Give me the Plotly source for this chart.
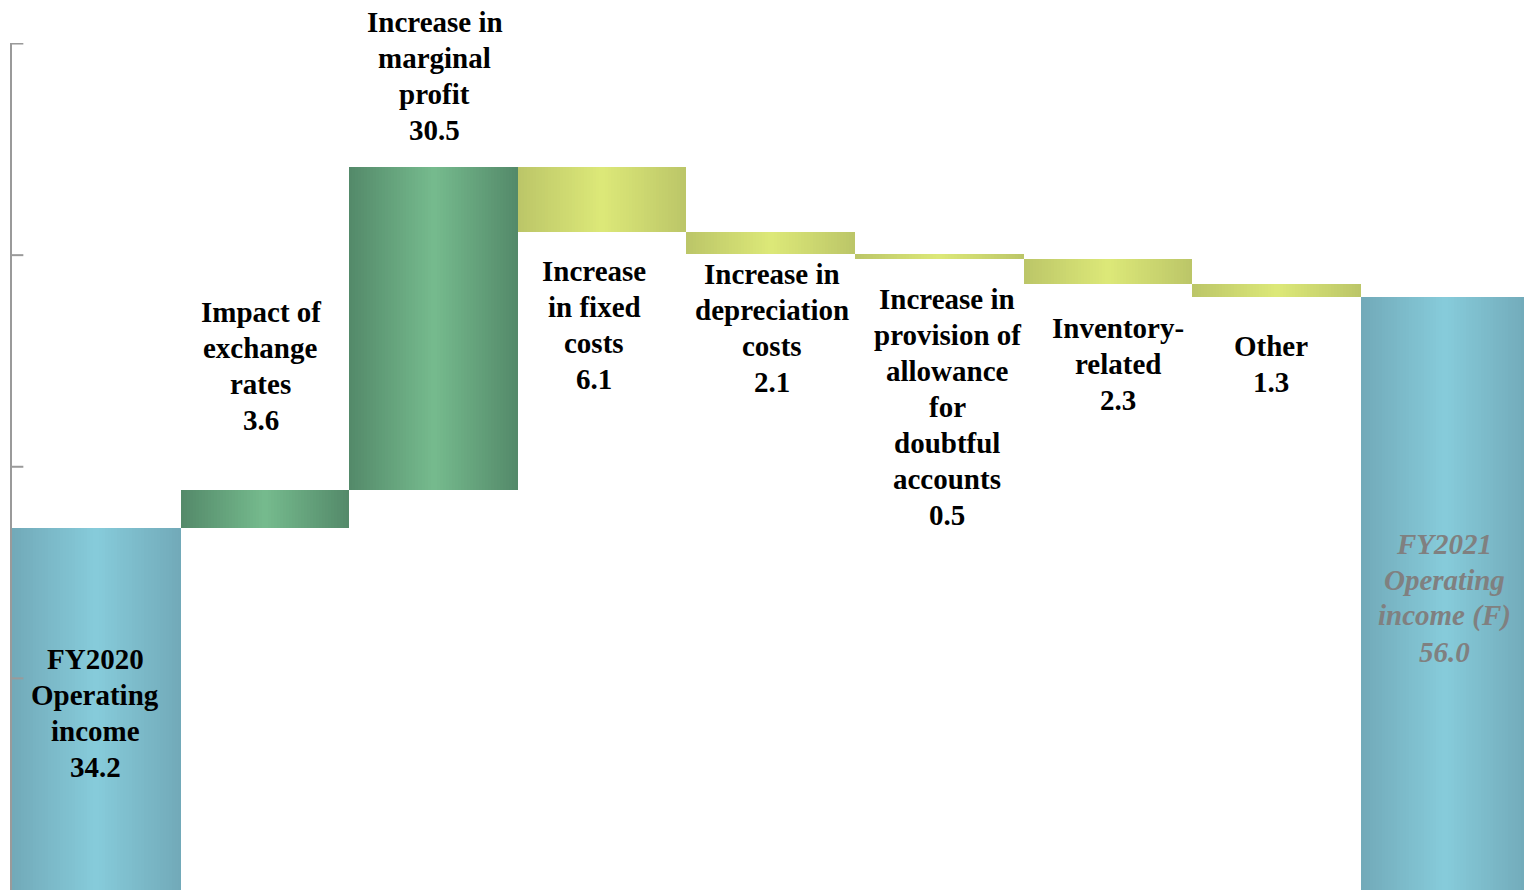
import plotly.graph_objects as go

# ---- data ----
categories = ["FY2020 Operating income", "Impact of exchange rates", "Increase in marginal profit",
              "Increase in fixed costs", "Increase in depreciation costs",
              "Increase in provision of allowance for doubtful accounts",
              "Inventory-related", "Other", "FY2021 Operating income (F)"]
label_lines = [["FY2020", "Operating", "income"],
               ["Impact of", "exchange", "rates"],
               ["Increase in", "marginal", "profit"],
               ["Increase", "in fixed", "costs"],
               ["Increase in", "depreciation", "costs"],
               ["Increase in", "provision of", "allowance", "for", "doubtful", "accounts"],
               ["Inventory-", "related"],
               ["Other"],
               ["FY2021", "Operating", "income (F)"]]
start_value = 34.2
changes = [3.6, 30.5, -6.1, -2.1, -0.5, -2.3, -1.3]
end_value = 56.0
y_ticks = [20, 40, 60, 80]

# ---- derived waterfall geometry ----
bases, heights, kinds = [0.0], [start_value], ["total"]
level = start_value
for c in changes:
    if c >= 0:
        bases.append(level); heights.append(c); kinds.append("up")
    else:
        bases.append(level + c); heights.append(-c); kinds.append("down")
    level += c
bases.append(0.0); heights.append(end_value); kinds.append("total")
values = [start_value] + changes + [end_value]
xs = list(range(len(categories)))

palette = {
    "total": ((114, 170, 185), (134, 203, 218)),
    "up": ((84, 138, 106), (117, 186, 141)),
    "down": ((188, 198, 104), (220, 232, 120)),
}

def mix(a, b, t):
    return "rgb(%d,%d,%d)" % tuple(round(a[i] + (b[i] - a[i]) * t) for i in range(3))

fig = go.Figure()
N = 28
for k in range(N):
    t = k / (N - 1)
    w = 1.0 - k / N
    cols = [mix(palette[kd][0], palette[kd][1], t) for kd in kinds]
    fig.add_trace(go.Bar(x=xs, y=heights, base=bases, width=w,
                         marker=dict(color=cols, line=dict(width=0)),
                         hoverinfo="skip", showlegend=False))

# ---- labels (one annotation per line for tight line spacing) ----
LINE = 36
font_black = dict(family="Liberation Serif", size=29, color="black", weight="bold")
gaps = [4, 70, 37, 39, 20, 40, 44, 49, 4]        # px gap between bar edge and first/last line centre
xshifts = [-1, -4, 1, -8, 1, 8, 10, -6, -1]
for i, kd in enumerate(kinds):
    lines = label_lines[i] + ["%.1f" % abs(values[i])]
    n = len(lines)
    font = dict(font_black)
    if i == len(kinds) - 1:
        font["color"] = "#808080"
        font["style"] = "italic"
    for j, ln in enumerate(lines):
        if kd == "total":
            y = heights[i] / 2
            ys = -(gaps[i] + (j - (n - 1) / 2) * LINE)
        elif kd == "up":
            y = bases[i] + heights[i]
            ys = gaps[i] + (n - 1 - j) * LINE
        else:
            y = bases[i]
            ys = -(gaps[i] + j * LINE)
        fig.add_annotation(x=xs[i], y=y, text=ln, showarrow=False, yanchor="middle",
                           xanchor="center", yshift=ys, xshift=xshifts[i],
                           font=font, align="center")

# inside tick marks drawn above the bars
for tv in y_ticks:
    fig.add_shape(type="line", xref="paper", yref="y", x0=0, x1=0.0075, y0=tv, y1=tv,
                  line=dict(color="#9a9a9a", width=2), layer="above")

fig.update_layout(
    width=1524, height=890,
    margin=dict(l=12, r=0, t=43, b=0),
    barmode="overlay", bargap=0,
    plot_bgcolor="white", paper_bgcolor="white",
    xaxis=dict(range=[-0.5, 8.467], visible=False),
    yaxis=dict(range=[0, 80.05], showgrid=False, zeroline=False,
               showline=True, linecolor="#9a9a9a", linewidth=2,
               ticks="", showticklabels=False),
)
fig.write_html("out.html")
